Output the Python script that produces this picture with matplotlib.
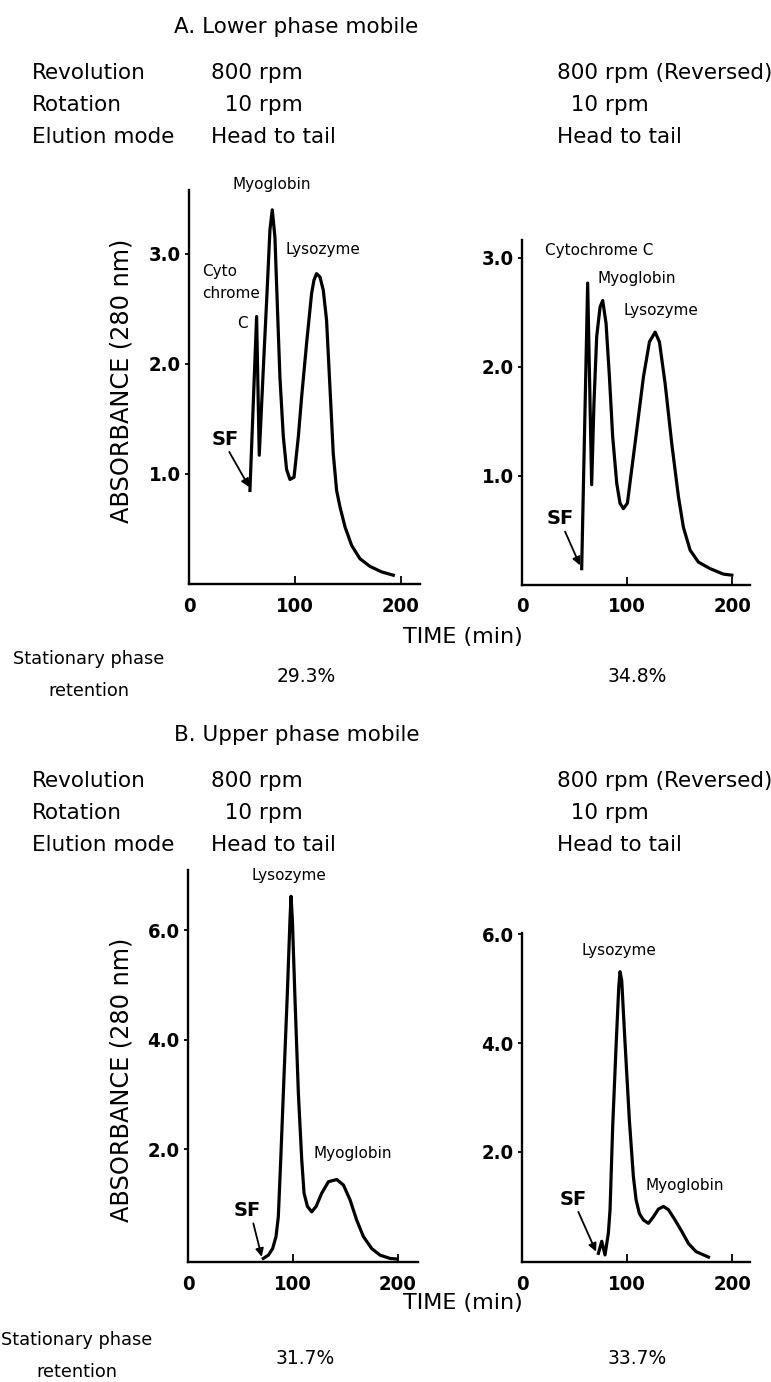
import matplotlib
matplotlib.use('Agg')
import matplotlib.pyplot as plt
from matplotlib import font_manager as fm

# ---- data ----
# A. lower phase mobile, 800 rpm
a1_time = [57.5, 63.8, 66.3, 70.1, 73.9, 76.4, 78.6, 81.1, 83.3, 85.8, 89.0, 92.1, 95.3, 99.1,
           103.2, 106.3, 111.0, 115.7, 117.9, 120.4, 123.6, 126.7, 129.8, 133.0, 136.1, 139.3,
           142.5, 147.2, 153.5, 161.3, 170.8, 181.8, 192.8]
a1_abs = [0.85, 2.43, 1.17, 1.95, 2.70, 3.22, 3.40, 3.15, 2.55, 1.88, 1.34, 1.04, 0.95, 0.97,
          1.34, 1.70, 2.19, 2.64, 2.76, 2.82, 2.79, 2.67, 2.40, 1.79, 1.19, 0.85,
          0.70, 0.52, 0.35, 0.23, 0.16, 0.11, 0.08]

# A. lower phase mobile, 800 rpm reversed
a2_time = [56.8, 62.5, 66.3, 68.5, 71.1, 74.3, 76.8, 80.0, 83.2, 86.3, 90.2, 93.3, 96.5, 100.3,
           104.4, 109.2, 115.6, 121.3, 126.7, 130.8, 136.2, 142.5, 148.9, 153.6, 160.0, 167.9,
           179.0, 191.7, 199.7]
a2_abs = [0.15, 2.77, 0.92, 1.67, 2.28, 2.55, 2.61, 2.40, 1.91, 1.36, 0.93, 0.75, 0.70, 0.75,
          1.06, 1.42, 1.91, 2.23, 2.32, 2.23, 1.85, 1.30, 0.81, 0.53, 0.32, 0.21,
          0.15, 0.10, 0.09]

# B. upper phase mobile, 800 rpm
b1_time = [71.7, 76.5, 80.6, 83.8, 86.0, 88.3, 91.4, 94.6, 97.1, 98.1, 99.4, 101.9, 105.1, 108.3,
           110.5, 113.7, 117.8, 122.0, 127.3, 133.7, 141.6, 148.0, 154.3, 160.6, 167.0, 174.9,
           182.9, 192.4, 198.7]
b1_abs = [0.01, 0.07, 0.19, 0.41, 0.77, 1.81, 3.33, 4.85, 6.19, 6.62, 6.19, 4.73, 3.02, 1.81,
          1.20, 0.96, 0.86, 0.96, 1.20, 1.41, 1.45, 1.35, 1.08, 0.71, 0.41, 0.19,
          0.07, 0.01, 0.0]

# B. upper phase mobile, 800 rpm reversed
b2_time = [72.7, 75.9, 79.0, 82.2, 83.8, 86.3, 89.5, 92.1, 93.3, 94.9, 98.1, 102.2, 106.0, 108.6,
           111.7, 115.6, 120.3, 125.1, 129.8, 134.6, 139.4, 145.7, 152.1, 158.4, 165.7, 177.5]
b2_abs = [0.14, 0.36, 0.11, 0.51, 0.94, 2.46, 3.93, 5.03, 5.31, 5.15, 3.99, 2.58, 1.55, 1.12,
          0.87, 0.75, 0.69, 0.81, 0.95, 1.0, 0.94, 0.75, 0.54, 0.32, 0.17, 0.07]

retention = ['29.3%', '34.8%', '31.7%', '33.7%']
row_names = ['Revolution', 'Rotation', 'Elution mode']
col_left = ['800 rpm', '  10 rpm', 'Head to tail']
col_right = ['800 rpm (Reversed)', '  10 rpm', 'Head to tail']

W, H = 771, 1382
fig = plt.figure(figsize=(W / 100, H / 100), dpi=100)
fig.patch.set_facecolor('white')

TXT = 'DejaVu Sans'

# tick numbers in the original are a narrow bold face; use one if there is one
fonts = fm.fontManager.ttflist
if any(f.name == 'Liberation Sans Narrow' for f in fonts):
    tick_font = dict(family='Liberation Sans Narrow', size=15.5)
elif any(f.name == 'DejaVu Sans' and f.stretch == 'condensed' for f in fonts):
    tick_font = dict(family='DejaVu Sans', stretch='condensed', size=14.5)
else:
    tick_font = dict(family='DejaVu Sans', size=12.5)


def px(x, y):
    return x / W, 1 - y / H


def rect(left, right, top, bottom):
    return [left / W, 1 - bottom / H, (right - left) / W, (bottom - top) / H]


def style_ax(ax, xlim, ylim, yticks, ylabels):
    ax.set_xlim(*xlim)
    ax.set_ylim(*ylim)
    for s in ['top', 'right']:
        ax.spines[s].set_visible(False)
    for s in ['left', 'bottom']:
        ax.spines[s].set_linewidth(1.7)
    ax.set_xticks([0, 100, 200])
    ax.set_xticklabels(['0', '100', '200'])
    ax.set_yticks(yticks)
    ax.set_yticklabels(ylabels)
    ax.tick_params(axis='x', direction='in', length=6, width=1.3, pad=9)
    ax.tick_params(axis='y', direction='out', length=3, width=1.3, pad=3)
    for lab in ax.get_xticklabels() + ax.get_yticklabels():
        lab.set_family(tick_font['family'])
        lab.set_fontstretch(tick_font.get('stretch', 'normal'))
        lab.set_fontweight('bold')
        lab.set_fontsize(tick_font['size'])
    ax.patch.set_alpha(0)


def sf(ax, tx, ty, ax0, ay0, ax1, ay1):
    ax.text(tx, ty, 'SF', fontsize=14, fontweight='bold', family=TXT, ha='left', va='center')
    ax.annotate('', xy=(ax1, ay1), xytext=(ax0, ay0),
                arrowprops=dict(arrowstyle='-|>', color='black', lw=1.3,
                                mutation_scale=12, shrinkA=0, shrinkB=0))


lw = 2.3

# ---------- A left ----------
ax1 = fig.add_axes(rect(189, 420, 190, 584))
ax1.plot(a1_time, a1_abs, color='black', lw=lw, solid_joinstyle='round')
style_ax(ax1, (0, 218), (0, 3.58), [1, 2, 3], ['1.0', '2.0', '3.0'])
ax1.text(41.5, 3.63, 'Myoglobin', fontsize=11, family=TXT, ha='left', va='center', clip_on=False)
ax1.text(90.6, 3.04, 'Lysozyme', fontsize=11, family=TXT, ha='left', va='center')
ax1.text(12, 2.84, 'Cyto', fontsize=11, family=TXT, ha='left', va='center')
ax1.text(12, 2.64, 'chrome', fontsize=11, family=TXT, ha='left', va='center')
ax1.text(45, 2.37, 'C', fontsize=11, family=TXT, ha='left', va='center')
sf(ax1, 21.4, 1.31, 38, 1.2, 56.9, 0.88)

# ---------- A right ----------
ax2 = fig.add_axes(rect(522, 750, 240, 585))
ax2.plot(a2_time, a2_abs, color='black', lw=lw, solid_joinstyle='round')
style_ax(ax2, (0, 217), (0, 3.165), [1, 2, 3], ['1.0', '2.0', '3.0'])
ax2.text(21.9, 3.07, 'Cytochrome C', fontsize=11, family=TXT, ha='left', va='center')
ax2.text(71.7, 2.81, 'Myoglobin', fontsize=11, family=TXT, ha='left', va='center')
ax2.text(96.5, 2.52, 'Lysozyme', fontsize=11, family=TXT, ha='left', va='center')
sf(ax2, 23.5, 0.61, 41, 0.49, 55.2, 0.18)

# ---------- B left ----------
ax3 = fig.add_axes(rect(188, 418, 870, 1262))
ax3.plot(b1_time, b1_abs, color='black', lw=lw, solid_joinstyle='round')
style_ax(ax3, (0, 219), (-0.055, 7.1), [2, 4, 6], ['2.0', '4.0', '6.0'])
ax3.text(96.3, 7.0, 'Lysozyme', fontsize=11, family=TXT, ha='center', va='center', clip_on=False)
ax3.text(119.4, 1.93, 'Myoglobin', fontsize=11, family=TXT, ha='left', va='center')
sf(ax3, 43.2, 0.89, 62.2, 0.65, 70.2, 0.04)

# ---------- B right ----------
ax4 = fig.add_axes(rect(522, 750, 933, 1262))
ax4.plot(b2_time, b2_abs, color='black', lw=lw, solid_joinstyle='round')
style_ax(ax4, (0, 217), (-0.02, 6.02), [2, 4, 6], ['2.0', '4.0', '6.0'])
ax4.text(92.5, 5.69, 'Lysozyme', fontsize=11, family=TXT, ha='center', va='center')
ax4.text(117.1, 1.39, 'Myoglobin', fontsize=11, family=TXT, ha='left', va='center')
sf(ax4, 36.2, 1.12, 53.6, 0.9, 70.5, 0.17)

# ---------- header / footer text ----------
hs = 15.5
for title, y0 in [('A. Lower phase mobile', 27), ('B. Upper phase mobile', 735)]:
    fig.text(*px(174, y0), title, fontsize=hs, family=TXT, ha='left', va='center')
    for i in range(3):
        yy = y0 + 46 + 32 * i
        fig.text(*px(32, yy), row_names[i], fontsize=hs, family=TXT, ha='left', va='center')
        fig.text(*px(211, yy), col_left[i], fontsize=hs, family=TXT, ha='left', va='center')
        fig.text(*px(557, yy), col_right[i], fontsize=hs, family=TXT, ha='left', va='center')

fig.text(*px(463, 637), 'TIME (min)', fontsize=16, family=TXT, ha='center', va='center')
fig.text(*px(463, 1303), 'TIME (min)', fontsize=16, family=TXT, ha='center', va='center')

for y0 in [381, 1080]:
    fig.text(*px(122, y0), 'ABSORBANCE (280 nm)', fontsize=17.3, family=TXT,
             ha='center', va='center', rotation=90)

fig.text(*px(89, 659), 'Stationary phase', fontsize=12.8, family=TXT, ha='center', va='center')
fig.text(*px(89, 691), 'retention', fontsize=12.8, family=TXT, ha='center', va='center')
fig.text(*px(77, 1340), 'Stationary phase', fontsize=12.8, family=TXT, ha='center', va='center')
fig.text(*px(77, 1372), 'retention', fontsize=12.8, family=TXT, ha='center', va='center')

for (x0, y0), r in zip([(306, 676), (637, 676), (305, 1358), (637, 1358)], retention):
    fig.text(*px(x0, y0), r, fontsize=13.5, family=TXT, ha='center', va='center')

fig.savefig('out.png', dpi=100, facecolor='white')
